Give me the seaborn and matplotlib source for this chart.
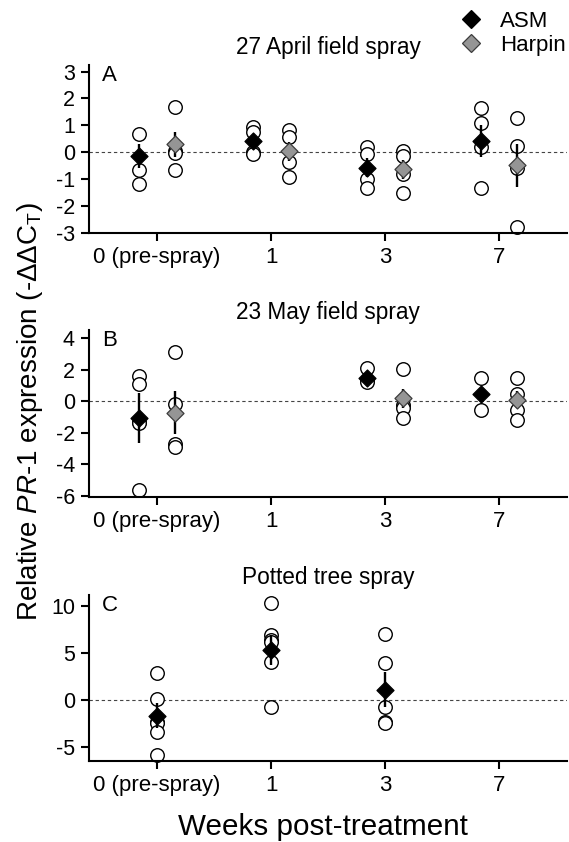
import numpy as np
import pandas as pd
import matplotlib
matplotlib.use("Agg")
import matplotlib.pyplot as plt
from matplotlib.lines import Line2D
import seaborn as sns

# ---- data ---------------------------------------------------------------
WEEKS = ["0 (pre-spray)", "1", "3", "7"]
TREATMENTS = ["ASM", "Harpin"]

# individual trees (open circles), one list per week (None = not sampled)
A_ASM = [[0.67, -0.67, -1.17], [0.94, 0.76, 0.01, -0.05],
         [0.20, -0.05, -0.98, -1.33], [1.66, 1.10, 0.20, -1.33]]
A_HARPIN = [[1.68, 0.05, -0.02, -0.67], [0.84, 0.57, -0.38, -0.92],
            [0.04, -0.14, -0.80, -1.52], [1.27, 0.25, -0.60, -2.76]]
B_ASM = [[1.58, 1.07, -1.30, -1.40, -5.62], None,
         [2.11, 1.33, 1.22], [1.47, -0.57]]
B_HARPIN = [[3.09, -0.19, -2.72, -2.88], None,
            [2.05, -0.25, -0.46, -1.05], [1.47, 0.44, -0.53, -1.16]]
C_ASM = [[2.91, 0.10, -2.35, -2.52, -3.48, -5.90],
         [10.38, 6.90, 6.36, 6.19, 4.05, -0.75],
         [7.07, 3.98, -0.75, -2.35, -2.45], None]

# treatment means (diamonds) and standard errors
A_ASM_MEAN = [-0.14, 0.41, -0.57, 0.41]
A_ASM_SE = [0.46, 0.25, 0.35, 0.60]
A_HARPIN_MEAN = [0.29, 0.04, -0.63, -0.48]
A_HARPIN_SE = [0.47, 0.35, 0.35, 0.80]
B_ASM_MEAN = [-1.05, np.nan, 1.47, 0.44]
B_ASM_SE = [1.58, np.nan, 0.25, 0.30]
B_HARPIN_MEAN = [-0.72, np.nan, 0.17, 0.10]
B_HARPIN_SE = [1.37, np.nan, 0.63, 0.55]
C_ASM_MEAN = [-1.71, 5.30, 1.10, np.nan]
C_ASM_SE = [1.33, 1.60, 1.89, np.nan]

PANELS = [
    dict(label="A", title="27 April field spray", ylim=(-3.0, 3.25),
         yticks=[-3, -2, -1, 0, 1, 2, 3],
         raw={"ASM": A_ASM, "Harpin": A_HARPIN},
         mean={"ASM": A_ASM_MEAN, "Harpin": A_HARPIN_MEAN},
         se={"ASM": A_ASM_SE, "Harpin": A_HARPIN_SE}),
    dict(label="B", title="23 May field spray", ylim=(-6.05, 4.5),
         yticks=[-6, -4, -2, 0, 2, 4],
         raw={"ASM": B_ASM, "Harpin": B_HARPIN},
         mean={"ASM": B_ASM_MEAN, "Harpin": B_HARPIN_MEAN},
         se={"ASM": B_ASM_SE, "Harpin": B_HARPIN_SE}),
    dict(label="C", title="Potted tree spray", ylim=(-6.5, 11.2),
         yticks=[-5, 0, 5, 10],
         raw={"ASM": C_ASM},
         mean={"ASM": C_ASM_MEAN},
         se={"ASM": C_ASM_SE}),
]

FILL = {"ASM": "black", "Harpin": "#959595"}
EDGE = {"ASM": "black", "Harpin": "#3c3c3c"}


def tabla_panel(panel):
    trts = list(panel["raw"].keys())
    offset = {"ASM": -0.155, "Harpin": 0.155} if len(trts) > 1 else {trts[0]: 0.0}
    crudos, medias = [], []
    for t in trts:
        for i, vals in enumerate(panel["raw"][t]):
            if vals is None:
                continue
            for v in vals:
                crudos.append({"trt": t, "x": i + offset[t], "value": v})
        for i, (m, s) in enumerate(zip(panel["mean"][t], panel["se"][t])):
            if np.isnan(m):
                continue
            medias.append({"trt": t, "x": i + offset[t], "mean": m, "se": s})
    return pd.DataFrame(crudos), pd.DataFrame(medias)


def graficar():
    sns.set_style("ticks", {"axes.edgecolor": "black", "text.color": "black",
                            "xtick.color": "black", "ytick.color": "black",
                            "axes.labelcolor": "black"})
    plt.rcParams["font.family"] = ["Liberation Sans", "DejaVu Sans"]
    plt.rcParams["mathtext.fontset"] = "custom"
    plt.rcParams["mathtext.rm"] = "Liberation Sans"
    plt.rcParams["mathtext.it"] = "Liberation Sans:italic"

    fig = plt.figure(figsize=(5.69, 8.42), dpi=100)
    posiciones = [
        [0.156, 0.7233, 0.841, 0.1997],
        [0.156, 0.410, 0.841, 0.198],
        [0.156, 0.0966, 0.841, 0.1967],
    ]

    for panel, pos in zip(PANELS, posiciones):
        ax = fig.add_axes(pos)
        crudos, medias = tabla_panel(panel)

        ax.axhline(0, color="#444444", lw=0.8, ls=(0, (3, 2.5)), zorder=1)

        sns.scatterplot(data=crudos, x="x", y="value", ax=ax, marker="o",
                        s=95, facecolor="white", edgecolor="black",
                        linewidth=1.0, zorder=2, clip_on=False, legend=False)

        ax.errorbar(medias["x"], medias["mean"], yerr=medias["se"], fmt="none",
                    ecolor="black", elinewidth=1.7, capsize=0, zorder=3)

        for t, sub in medias.groupby("trt"):
            sns.scatterplot(data=sub, x="x", y="mean", ax=ax, marker="D",
                            s=75, color=FILL[t], edgecolor=EDGE[t],
                            linewidth=0.9, zorder=4, legend=False)

        ax.set_xlim(-0.6, 3.6)
        ax.set_ylim(*panel["ylim"])
        ax.set_xticks(range(len(WEEKS)))
        ax.set_xticklabels(WEEKS, fontsize=16)
        ax.set_yticks(panel["yticks"])
        ax.set_yticklabels([str(v) for v in panel["yticks"]], fontsize=15.5)
        ax.set_xlabel("")
        ax.set_ylabel("")
        ax.set_title(panel["title"], fontsize=16.3, pad=8)
        ax.text(0.027, 1.0, panel["label"], transform=ax.transAxes,
                fontsize=16, ha="left", va="top")

        for lado in ["top", "right"]:
            ax.spines[lado].set_visible(False)
        for lado in ["left", "bottom"]:
            ax.spines[lado].set_linewidth(1.5)
        ax.tick_params(direction="out", length=6, width=1.5, pad=4)

    handles = [
        Line2D([], [], ls="none", marker="D", ms=9, mfc=FILL[t], mec=EDGE[t],
               mew=0.9, label=t) for t in TREATMENTS
    ]
    fig.legend(handles=handles, loc="upper left", bbox_to_anchor=(0.808, 0.987),
               frameon=False, fontsize=16, handlelength=1.0,
               handletextpad=0.8, labelspacing=0.12, borderpad=0,
               borderaxespad=0)

    fig.text(0.053, 0.511,
             r"Relative $\mathit{PR}$-$\mathit{1}$ expression (-ΔΔC$_{\mathrm{T}}$)",
             rotation=90, ha="center", va="center", fontsize=20)
    fig.text(0.568, 0.018, "Weeks post-treatment", ha="center", va="center",
             fontsize=21.3)

    fig.savefig("out.png", dpi=100)
    plt.close(fig)


def main():
    graficar()


if __name__ == "__main__":
    main()
